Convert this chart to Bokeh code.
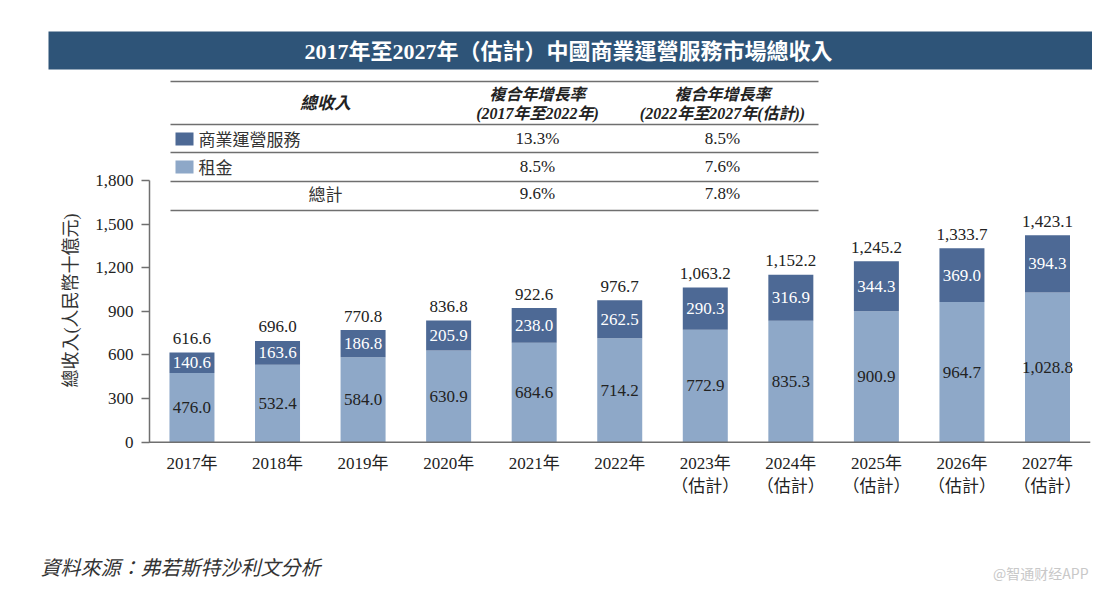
from bokeh.plotting import figure
from bokeh.models import Range1d, LinearAxis, FixedTicker, NumeralTickFormatter
from bokeh.core.properties import value
from bokeh.embed import file_html
from bokeh.resources import INLINE
import math

# ---------------- data ----------------
years = ["2017年", "2018年", "2019年", "2020年", "2021年", "2022年",
         "2023年\n（估計）", "2024年\n（估計）", "2025年\n（估計）",
         "2026年\n（估計）", "2027年\n（估計）"]
rent = [476.0, 532.4, 584.0, 630.9, 684.6, 714.2, 772.9, 835.3, 900.9, 964.7, 1028.8]
services = [140.6, 163.6, 186.8, 205.9, 238.0, 262.5, 290.3, 316.9, 344.3, 369.0, 394.3]
totals = [616.6, 696.0, 770.8, 836.8, 922.6, 976.7, 1063.2, 1152.2, 1245.2, 1333.7, 1423.1]
y_ticks = [0, 300, 600, 900, 1200, 1500, 1800]

series_names = ["商業運營服務", "租金"]
cagr_2017_2022 = ["13.3%", "8.5%", "9.6%"]
cagr_2022_2027 = ["8.5%", "7.6%", "7.8%"]

title_text = "2017年至2027年（估計）中國商業運營服務市場總收入"
y_title = "總收入(人民幣十億元)"
source_text = "資料來源：弗若斯特沙利文分析"
watermark = "@智通财经APP"

# ---------------- style ----------------
DARK = "#4d6995"
LIGHT = "#8ea8c8"
BANNER = "#2e5478"
LINE = "#6f6f6f"
TXT = "#222222"
SERIF = "Liberation Serif, Noto Sans CJK TC"
CJK = "Noto Sans CJK TC"

p = figure(width=1092, height=583,
           x_range=Range1d(0, 1092), y_range=Range1d(583, 0),
           output_backend="svg", toolbar_location=None,
           x_axis_location=None, y_axis_location=None,
           min_border=0, outline_line_color=None,
           background_fill_color="white", border_fill_color="white")
p.extra_x_ranges = {"bars": Range1d(-2.238, 10.526)}
p.extra_y_ranges = {"val": Range1d(-972, 3038)}
p.xgrid.visible = False
p.ygrid.visible = False

idx = list(range(len(years)))

# bars
p.vbar(x=idx, width=0.526, bottom=0, top=rent, fill_color=LIGHT, line_color=None,
       x_range_name="bars", y_range_name="val")
p.vbar(x=idx, width=0.526, bottom=rent, top=totals, fill_color=DARK, line_color=None,
       x_range_name="bars", y_range_name="val")

# value labels
p.text(x=idx, y=[r / 2 for r in rent], text=[f"{r:,.1f}" for r in rent],
       x_range_name="bars", y_range_name="val", text_align="center", text_baseline="middle",
       text_font=value("Liberation Serif"), text_font_size="17px", text_color=TXT)
p.text(x=idx, y=[r + s / 2 for r, s in zip(rent, services)], text=[f"{s:,.1f}" for s in services],
       x_range_name="bars", y_range_name="val", text_align="center", text_baseline="middle",
       text_font=value("Liberation Serif"), text_font_size="17px", text_color="#ffffff")
p.text(x=idx, y=totals, text=[f"{t:,.1f}" for t in totals], y_offset=-14,
       x_range_name="bars", y_range_name="val", text_align="center", text_baseline="middle",
       text_font=value("Liberation Serif"), text_font_size="17px", text_color=TXT)

# x baseline
p.segment(x0=[-0.5], x1=[len(years) - 0.5], y0=[0], y1=[0], line_color=LINE, line_width=1.5,
          x_range_name="bars", y_range_name="val")
# x labels
p.text(x=idx, y=[453] * len(years), text=years, x_range_name="bars",
       text_align="center", text_baseline="top", text_line_height=1.25,
       text_font=value(SERIF), text_font_size="17px", text_color=TXT)

# y axis
yax = LinearAxis(y_range_name="val", fixed_location=149, bounds=(0, 1800),
                 ticker=FixedTicker(ticks=y_ticks),
                 formatter=NumeralTickFormatter(format="0,0"))
yax.axis_line_color = LINE
yax.axis_line_width = 1.5
yax.major_tick_line_color = LINE
yax.major_tick_line_width = 1.5
yax.major_tick_out = 8
yax.major_tick_in = 0
yax.minor_tick_line_color = None
yax.major_label_text_font = "Liberation Serif"
yax.major_label_text_font_size = "17px"
yax.major_label_text_color = TXT
yax.major_label_standoff = 8
p.add_layout(yax, "left")

# y title
p.text(x=[70], y=[300], text=[y_title], angle=math.pi / 2,
       text_align="center", text_baseline="middle",
       text_font=value(SERIF), text_font_size="18px", text_color="#333333")

# title banner
p.quad(left=[48], right=[1092], top=[31], bottom=[69], fill_color=BANNER, line_color=None)
p.text(x=[568], y=[51], text=[title_text], text_align="center", text_baseline="middle",
       text_font=value(SERIF), text_font_style="bold", text_font_size="22px", text_color="white")

# table
for yy in [81, 124, 152, 181, 210]:
    p.segment(x0=[170], x1=[818], y0=[yy], y1=[yy], line_color=LINE, line_width=1.5)

p.text(x=[325], y=[103], text=["總收入"], text_align="center", text_baseline="middle",
       text_font=value(SERIF), text_font_style="bold italic", text_font_size="17px", text_color=TXT)
p.text(x=[537, 722], y=[94, 94], text=["複合年增長率", "複合年增長率"],
       text_align="center", text_baseline="middle",
       text_font=value(SERIF), text_font_style="bold italic", text_font_size="16px", text_color=TXT)
p.text(x=[537, 722], y=[113, 113], text=["(2017年至2022年)", "(2022年至2027年(估計))"],
       text_align="center", text_baseline="middle",
       text_font=value(SERIF), text_font_style="bold italic", text_font_size="16px", text_color=TXT)

row_y = [138, 166, 193]
p.quad(left=[175, 175], right=[193, 193], top=[132, 160], bottom=[145, 173],
       fill_color=[DARK, LIGHT], line_color=None)
p.text(x=[198, 198], y=row_y[:2], text=series_names, text_align="left", text_baseline="middle",
       text_font=value(CJK), text_font_size="17px", text_color="#333333")
p.text(x=[325], y=[row_y[2]], text=["總計"], text_align="center", text_baseline="middle",
       text_font=value(CJK), text_font_size="17px", text_color="#333333")
p.text(x=[537] * 3, y=row_y, text=cagr_2017_2022, text_align="center", text_baseline="middle",
       text_font=value("Liberation Serif"), text_font_size="17px", text_color=TXT)
p.text(x=[722] * 3, y=row_y, text=cagr_2022_2027, text_align="center", text_baseline="middle",
       text_font=value("Liberation Serif"), text_font_size="17px", text_color=TXT)

# source & watermark
p.text(x=[40], y=[566], text=[source_text], text_align="left", text_baseline="middle",
       text_font=value(CJK), text_font_style="italic", text_font_size="20px", text_color="#333333")
p.text(x=[1088], y=[572], text=[watermark], text_align="right", text_baseline="middle",
       text_font=value("Noto Sans CJK SC"), text_font_size="14px", text_color="#c8c8c8")

open("out.html", "w").write(file_html(p, INLINE))
